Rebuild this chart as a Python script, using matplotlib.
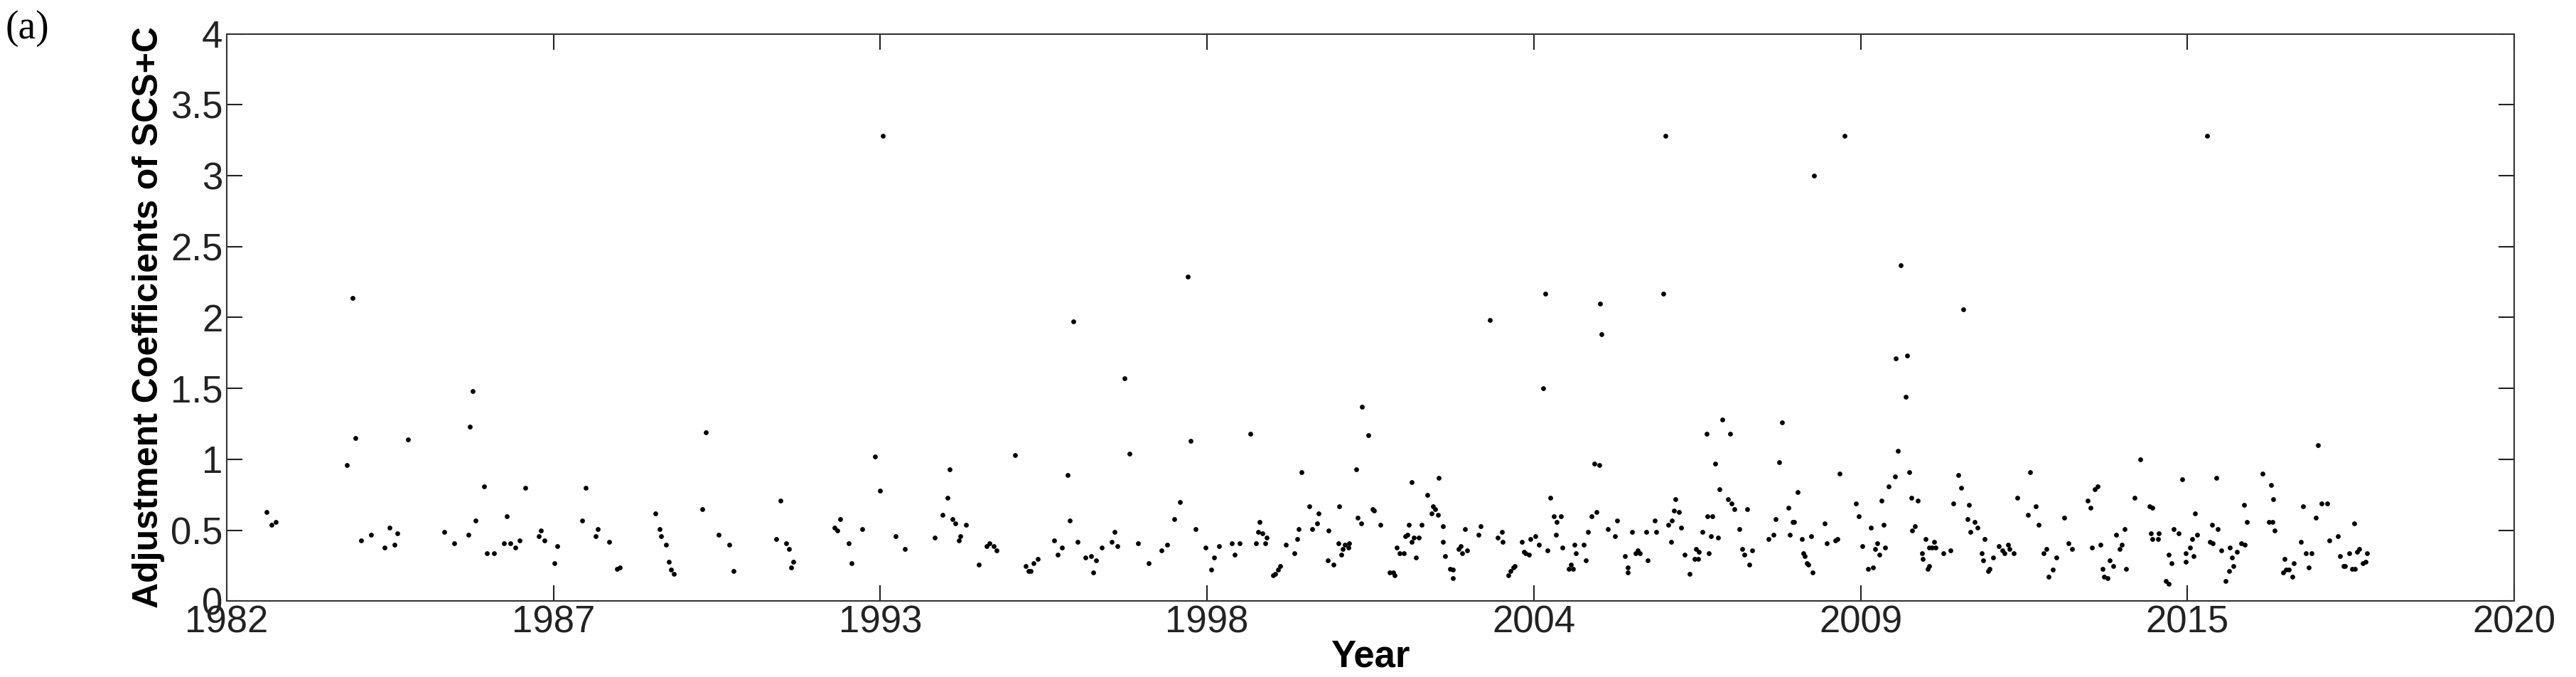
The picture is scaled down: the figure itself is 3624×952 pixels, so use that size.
import matplotlib
matplotlib.use("Agg")
import matplotlib.pyplot as plt
import numpy as np

years = [
1982.66,1982.75,1982.82,1984.00,1984.09,1984.14,1984.23,1984.40,1984.62,1984.70,1984.79,1984.84,1985.01,
1985.62,1985.78,1986.01,1986.04,1986.09,1986.13,1986.27,1986.32,1986.44,1986.65,1986.61,1986.71,1986.79,1986.87,1986.96,
1987.18,1987.22,1987.28,1987.44,1987.49,1987.91,1987.96,1988.13,1988.17,1988.35,1988.48,1988.53,1989.12,1989.19,1989.22,
1989.30,1989.35,1989.38,1989.43,1989.90,1989.96,1990.17,1990.35,1990.42,1991.13,1991.20,1991.29,1991.34,1991.41,1991.38,
1992.10,1992.15,1992.19,1992.33,1992.38,1992.56,1992.77,1992.85,1992.90,1993.11,1993.27,
1993.76,1993.89,1993.97,1994.01,1994.06,1994.10,1994.16,1994.19,1994.28,1994.49,1994.62,1994.67,1994.74,1994.79,1995.10,
1995.27,1995.32,1995.36,1995.40,1995.48,1995.75,1995.80,1995.88,1995.97,1996.01,1996.06,1996.14,1996.27,1996.36,1996.40,
1996.44,1996.54,1996.70,1996.75,1996.80,1996.92,1997.00,1997.14,1997.32,1997.53,1997.62,1997.74,1997.83,1997.96,1998.01,
1998.09,1998.26,1998.36,1998.40,1998.48,1998.70,1998.74,1998.83,1999.00,1999.10,1999.13,1999.16,1999.20,1999.25,1999.28,
1999.38,1999.42,1999.46,1999.50,1999.60,1999.74,1999.79,1999.81,1999.85,1999.98,2000.03,2000.12,2000.14,2000.30,2000.29,
2000.39,2000.48,2000.47,2000.52,2000.54,2000.58,2000.63,2000.65,2000.76,2000.79,2000.85,2000.86,2000.97,2001.04,2001.06,
2001.16,2001.32,2001.38,2001.40,2001.44,2001.48,2001.56,2001.58,2001.62,2001.64,2001.68,2001.68,2001.72,2001.76,2001.80,
2001.85,2001.94,2002.01,2002.04,2002.07,2002.12,2002.13,2002.21,2002.20,2002.24,2002.32,2002.37,2002.37,2002.46,2002.50,
2002.52,2002.57,2002.61,2002.79,2002.83,2002.98,2003.11,2003.18,2003.20,2003.29,2003.33,2003.37,2003.40,2003.51,2003.55,
2003.57,2003.63,2003.66,2003.74,2003.80,2003.87,2003.91,2003.94,2003.99,2004.05,2004.08,2004.10,2004.16,2004.19,2004.29,
2004.33,2004.37,2004.39,2004.41,2004.54,2004.58,2004.61,2004.67,2004.72,2004.76,2004.80,2004.82,2004.84,2004.95,2005.06,
2005.10,2005.23,2005.27,2005.28,2005.35,2005.40,2005.44,2005.48,2005.58,2005.60,2005.72,2005.75,2005.87,2005.90,2005.95,
2005.99,2006.01,2006.04,2006.07,2006.13,2006.16,2006.22,2006.30,2006.39,2006.41,2006.44,2006.46,2006.52,2006.58,2006.60,
2006.62,2006.66,2006.68,2006.73,2006.77,2006.80,2006.85,2006.94,2006.97,2007.00,2007.05,2007.13,2007.18,2007.21,2007.26,
2007.29,
2007.34,2007.61,2007.70,2007.73,2007.79,2007.84,2007.94,2007.97,2008.01,2008.04,2008.10,2008.17,2008.19,2008.22,2008.25,
2008.28,2008.32,2008.35,2008.37,2008.55,2008.58,2008.72,2008.76,2008.79,2008.88,2009.07,2009.11,2009.17,2009.27,2009.31,
2009.35,2009.39,2009.42,2009.46,2009.49,2009.52,2009.55,2009.61,2009.71,2009.73,2009.76,2009.81,2009.89,2009.92,2009.95,
2009.99,2010.00,2010.04,2010.09,2010.16,2010.18,2010.22,2010.26,2010.28,2010.28,2010.33,2010.36,2010.39,2010.52,2010.64,
2010.68,2010.76,2010.81,2010.85,2010.92,2010.94,2010.97,2011.04,2011.09,2011.16,2011.18,2011.20,2011.26,2011.29,2011.34,
2011.44,2011.50,2011.53,2011.59,2011.62,2011.69,2011.75,2011.92,2011.96,2012.05,2012.10,2012.18,2012.23,2012.27,2012.34,
2012.40,2012.52,2012.60,2012.66,2012.92,2012.96,2012.99,2013.03,2013.08,2013.13,2013.16,2013.19,2013.25,2013.28,2013.34,
2013.39,2013.45,2013.48,2013.53,2013.55,2013.70,2013.79,2013.94,2013.99,2013.96,2013.99,2014.08,2014.10,2014.21,2014.26,
2014.26,2014.31,2014.34,2014.43,2014.49,2014.54,2014.54,2014.62,2014.65,2014.68,2014.70,2014.73,2014.90,2014.94,2014.98,
2014.99,2015.05,2015.07,2015.13,2015.20,2015.26,2015.28,2015.31,2015.33,2015.39,2015.47,2015.51,2015.53,2015.56,2015.82,
2015.93,2015.98,2015.96,2016.00,2016.02,2016.16,2016.19,2016.21,2016.26,2016.32,2016.34,2016.46,2016.49,2016.54,2016.59,
2016.63,2016.71,2016.74,2016.80,2016.89,2016.93,2017.07,2017.11,2017.16,2017.19,2017.26,2017.31,2017.34,2017.36,2017.39,
2017.42,2017.49,2017.53,2017.56,
]

coeffs = [
0.63,0.54,0.56,0.96,2.14,1.15,0.43,0.47,0.38,0.52,0.40,0.48,1.14,
0.49,0.41,0.47,1.23,1.48,0.57,0.81,0.34,0.34,0.60,0.41,0.41,0.38,0.43,0.80,
0.46,0.50,0.43,0.27,0.39,0.57,0.80,0.46,0.51,0.42,0.23,0.24,0.62,0.51,0.46,
0.40,0.28,0.22,0.19,0.65,1.19,0.47,0.40,0.21,0.44,0.71,0.41,0.37,0.28,0.24,
0.52,0.50,0.58,0.41,0.27,0.51,1.02,0.78,3.28,0.46,0.37,
0.45,0.61,0.73,0.93,0.58,0.55,0.43,0.46,0.54,0.26,0.39,0.41,0.39,0.36,1.03,
0.25,0.21,0.21,0.27,0.30,0.43,0.33,0.38,0.89,0.57,1.97,0.42,0.31,0.32,0.20,
0.29,0.38,0.42,0.49,0.39,1.57,1.04,0.41,0.27,0.36,0.40,0.58,0.70,2.29,1.13,
0.51,0.38,0.22,0.31,0.39,0.41,0.33,0.41,1.18,0.41,0.49,0.56,0.48,0.41,0.45,
0.18,0.19,0.22,0.25,0.40,0.34,0.44,0.51,0.91,0.67,0.51,0.55,0.62,0.50,0.29,
0.26,0.67,0.41,0.33,0.37,0.40,0.38,0.41,0.93,0.59,0.55,1.37,1.17,0.65,0.64,
0.54,0.20,0.20,0.18,0.38,0.34,0.34,0.46,0.47,0.54,0.42,0.84,0.45,0.31,0.45,
0.54,0.75,0.62,0.67,0.65,0.61,0.87,0.53,0.42,0.32,0.23,0.22,0.16,0.37,0.39,
0.34,0.51,0.36,0.47,0.53,1.98,0.45,0.49,0.42,0.18,0.21,0.24,0.25,0.42,0.35,
0.34,0.33,0.44,0.46,0.40,1.50,2.17,0.36,0.73,0.60,0.47,0.56,0.60,0.38,0.23,
0.26,0.23,0.40,0.34,0.40,0.29,0.49,0.60,0.97,0.63,0.96,2.10,1.88,0.51,0.46,
0.57,0.32,0.20,0.24,0.49,0.34,0.36,0.34,0.49,0.29,0.57,0.49,2.17,3.28,0.54,
0.42,0.57,0.64,0.72,0.63,0.52,0.33,0.19,0.30,0.37,0.30,0.35,0.49,1.18,0.60,
0.34,0.46,0.60,0.97,0.45,0.79,1.28,0.72,1.18,0.69,0.65,0.51,0.37,0.33,0.65,
0.26,
0.36,0.44,0.47,0.58,0.98,1.26,0.66,0.47,0.56,0.56,0.77,0.44,0.34,0.32,0.27,
0.26,0.46,0.20,3.00,0.55,0.41,0.43,0.44,0.90,3.28,0.69,0.60,0.39,0.23,0.52,
0.24,0.37,0.41,0.33,0.71,0.54,0.38,0.81,0.88,1.71,1.06,2.37,1.44,1.73,0.91,
0.73,0.50,0.53,0.71,0.34,0.30,0.44,0.23,0.25,0.38,0.38,0.42,0.38,0.34,0.36,
0.69,0.89,0.80,2.06,0.58,0.68,0.49,0.56,0.52,0.34,0.29,0.44,0.21,0.23,0.31,
0.39,0.36,0.34,0.40,0.37,0.34,0.73,0.61,0.91,0.67,0.54,0.34,0.37,0.17,0.22,
0.31,0.59,0.41,0.37,0.71,0.66,0.38,0.79,0.81,0.40,0.23,0.17,0.16,0.29,0.25,
0.47,0.37,0.40,0.51,0.23,0.73,1.00,0.67,0.66,0.48,0.44,0.44,0.48,0.14,0.12,
0.33,0.27,0.51,0.48,0.86,0.34,0.28,0.38,0.44,0.32,0.62,0.47,3.28,0.42,0.54,
0.41,0.87,0.51,0.36,0.14,0.21,0.38,0.31,0.25,0.35,0.41,0.68,0.40,0.56,0.90,
0.56,0.56,0.82,0.72,0.50,0.20,0.30,0.22,0.22,0.17,0.27,0.42,0.67,0.34,0.24,
0.34,0.59,1.10,0.69,0.69,0.43,0.46,0.32,0.25,0.25,0.34,0.23,0.55,0.23,0.35,
0.37,0.27,0.28,0.34,
]

x_min, x_max = 1982, 2020
x_tick_labels = ["1982", "1987", "1993", "1998", "2004", "2009", "2015", "2020"]
y_ticks = [0, 0.5, 1, 1.5, 2, 2.5, 3, 3.5, 4]
y_tick_labels = ["0", "0.5", "1", "1.5", "2", "2.5", "3", "3.5", "4"]

plt.rcParams['font.family'] = ['Liberation Sans Narrow', 'Liberation Sans', 'DejaVu Sans']

fig = plt.figure(figsize=(36.24, 9.52), dpi=100)
ax = fig.add_axes([0.088, 0.112, 0.888, 0.838])
ax.scatter(years, coeffs, s=24, color='black', linewidths=0)
ax.set_xlim(x_min, x_max)
ax.set_ylim(0, 4)
ax.set_xticks(np.linspace(x_min, x_max, len(x_tick_labels)))
ax.set_xticklabels(x_tick_labels)
ax.set_yticks(y_ticks)
ax.set_yticklabels(y_tick_labels)
ax.tick_params(direction='in', top=True, right=True, length=16, width=1.5, labelsize=38, colors='#222222', pad=4)
for sp in ax.spines.values():
    sp.set_linewidth(1.5)
    sp.set_color('#333333')
ax.set_xlabel("Year", fontsize=38, fontweight='bold', family=['Liberation Sans', 'DejaVu Sans'], labelpad=-2)
ax.set_ylabel("Adjustment Coefficients of SCS+C", fontsize=36, fontweight='bold', family=['Liberation Sans', 'DejaVu Sans'], labelpad=6)
fig.text(0.002, 0.985, "(a)", fontsize=40, family=['Liberation Serif', 'DejaVu Serif'], va='top', ha='left')
fig.savefig("out.png", dpi=100)
